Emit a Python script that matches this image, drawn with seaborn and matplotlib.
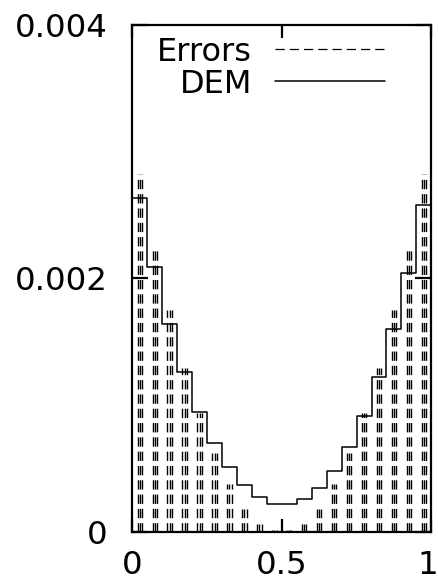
import numpy as np
import pandas as pd
import matplotlib
matplotlib.use("Agg")
import matplotlib.pyplot as plt
import matplotlib.transforms as mtransforms
import seaborn as sns
from matplotlib.lines import Line2D

# ---- data ----
bin_edges = [round(0.05 * i, 2) for i in range(21)]
dem_values = [0.002635, 0.002093, 0.001641, 0.00126, 0.000949, 0.0007, 0.00051,
              0.000371, 0.000274, 0.000221, 0.000221, 0.00026, 0.00035, 0.000484,
              0.000673, 0.000918, 0.00122, 0.0016, 0.002046, 0.00258]
error_tops = [0.002822, 0.002251, 0.001748, 0.001296, 0.000941, 0.000626, 0.000381,
              0.000179, 0.0000607, 0.000016, 0.000016, 0.0000607, 0.000179, 0.000381,
              0.000626, 0.000941, 0.001296, 0.001748, 0.002251, 0.002822]
x_ticks = [0, 0.5, 1]
x_tick_labels = ["0", "0.5", "1"]
y_ticks = [0, 0.002, 0.004]
y_tick_labels = ["0", "0.002", "0.004"]
legend_labels = ["Errors", "DEM"]

sns.set_theme(style="ticks")
plt.rcParams["font.family"] = ["DejaVu Sans"]
plt.rcParams["text.color"] = "black"

fig = plt.figure(figsize=(4.38, 5.81), dpi=100)
ax = fig.add_axes([132.3 / 438, 1 - 532 / 581, 299 / 438, 507 / 581])

edges = np.array(bin_edges)
centers = (edges[:-1] + edges[1:]) / 2
df = pd.DataFrame({"x": centers, "w": dem_values})

# DEM as step histogram
sns.histplot(data=df, x="x", weights="w", bins=bin_edges, element="step",
             fill=False, color="black", linewidth=1.1, ax=ax)

# Errors: groups of dashed vertical lines from 0 up to the error top
off = 0.0074
for d in (-off, 0.0, off):
    ax.vlines(centers + d, 0, error_tops, colors="black", linewidth=1.0,
              linestyles=[(0, (6.7, 3.6))])

ax.set_xlim(0, 1)
ax.set_ylim(0, 0.004)
ax.set_xlabel("")
ax.set_ylabel("")
ax.set_xticks(x_ticks)
ax.set_xticklabels(x_tick_labels)
ax.set_yticks(y_ticks)
ax.set_yticklabels(y_tick_labels)
for s in ax.spines.values():
    s.set_visible(True)
    s.set_linewidth(1.6)
    s.set_color("black")
ax.tick_params(axis="both", direction="in", top=True, right=True, width=1.6,
               color="black", labelsize=23.4, labelcolor="black")
ax.tick_params(axis="x", length=9.5, pad=13)
ax.tick_params(axis="y", length=11.5, pad=18)

# nudge the last x label slightly left so it stays inside the image
last_lbl = ax.xaxis.get_major_ticks()[-1].label1
last_lbl.set_transform(last_lbl.get_transform()
                       + mtransforms.ScaledTranslation(-4 / 100, 0, fig.dpi_scale_trans))

h_err = Line2D([], [], color="black", linewidth=0.9, linestyle=(0, (7.4, 4.0)))
h_dem = Line2D([], [], color="black", linewidth=1.1)
leg = ax.legend([h_err, h_dem], legend_labels, loc="upper right",
                bbox_to_anchor=((385 - 132.3) / 299, (532 - 36.6) / 507),
                frameon=False, markerfirst=False, fontsize=23, borderpad=0,
                borderaxespad=0, handlelength=3.45, handletextpad=0.72,
                labelspacing=0.03)
for t in leg.get_texts():
    t.set_color("black")

fig.savefig("out.png", dpi=100)
